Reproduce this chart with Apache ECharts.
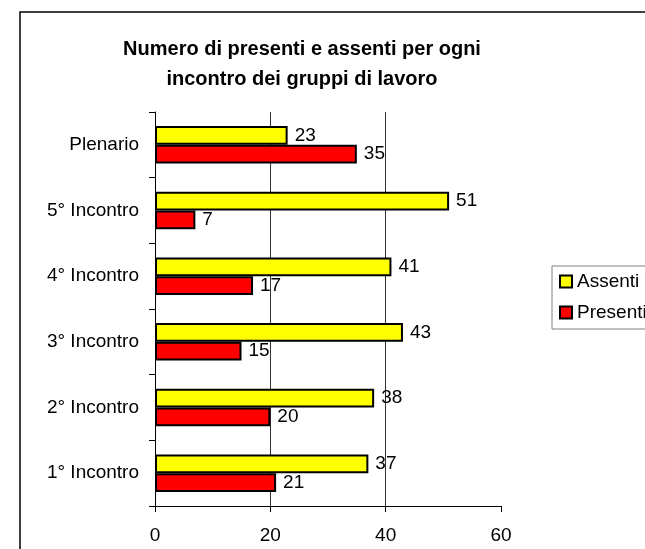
<!DOCTYPE html>
<html>
<head>
<meta charset="utf-8">
<script src="https://cdn.jsdelivr.net/npm/echarts@6/dist/echarts.min.js"></script>
<style>
  html, body { margin: 0; padding: 0; background: #fff; }
  #chart { width: 645px; height: 549px; }
</style>
</head>
<body>
<div id="chart"></div>
<script>
  // categorie dal basso verso l'alto
  var categorie = ['1° Incontro', '2° Incontro', '3° Incontro', '4° Incontro', '5° Incontro', 'Plenario'];
  var assenti = [37, 38, 43, 41, 51, 23];
  var presenti = [21, 20, 15, 17, 7, 35];
  var tickValori = [0, 20, 40, 60];

  var font = 'Liberation Sans, Arial, sans-serif';
  var myChart = echarts.init(document.getElementById('chart'));

  myChart.setOption({
    animation: false,
    textStyle: { fontFamily: font },
    title: {
      text: 'Numero di presenti e assenti per ogni\nincontro dei gruppi di lavoro',
      left: 297,
      top: 29,
      textAlign: 'center',
      textStyle: { fontSize: 20, fontWeight: 'bold', color: '#000', lineHeight: 30, fontFamily: font }
    },
    graphic: [{
      type: 'rect',
      shape: { x: 20, y: 12, width: 700, height: 600 },
      style: { fill: 'none', stroke: '#000', lineWidth: 1.5 },
      silent: true
    }],
    legend: {
      data: ['Assenti', 'Presenti'],
      orient: 'vertical',
      left: 552,
      top: 266,
      padding: [6, 40, 7, 7],
      itemGap: 12,
      itemWidth: 12,
      itemHeight: 12,
      icon: 'rect',
      borderColor: '#808080',
      borderWidth: 1,
      textStyle: { fontSize: 19, color: '#000', fontFamily: font }
    },
    grid: { left: 155, right: 144, top: 112, bottom: 43, containLabel: false },
    xAxis: {
      type: 'value',
      min: tickValori[0],
      max: tickValori[tickValori.length - 1],
      interval: 20,
      axisLine: { show: true, lineStyle: { color: '#000', width: 1 } },
      axisTick: { show: true, length: 6, lineStyle: { color: '#000' } },
      axisLabel: { fontSize: 19, color: '#000', margin: 20 },
      splitLine: { show: true, showMinLine: false, showMaxLine: false, lineStyle: { color: '#333', width: 1 } }
    },
    yAxis: {
      type: 'category',
      data: categorie,
      axisLine: { show: true, lineStyle: { color: '#000', width: 1 } },
      axisTick: { show: true, length: 6, lineStyle: { color: '#000' } },
      axisLabel: { fontSize: 19, color: '#000', margin: 16 }
    },
    series: [
      {
        name: 'Assenti',
        type: 'bar',
        data: assenti,
        barGap: '0%',
        barCategoryGap: '43%',
        itemStyle: { color: '#ffff00', borderColor: '#000', borderWidth: 2 },
        label: { show: true, position: 'right', distance: 7, fontSize: 19, color: '#000' }
      },
      {
        name: 'Presenti',
        type: 'bar',
        data: presenti,
        barGap: '0%',
        barCategoryGap: '43%',
        itemStyle: { color: '#ff0000', borderColor: '#000', borderWidth: 2 },
        label: { show: true, position: 'right', distance: 7, fontSize: 19, color: '#000' }
      }
    ]
  });
</script>
</body>
</html>
